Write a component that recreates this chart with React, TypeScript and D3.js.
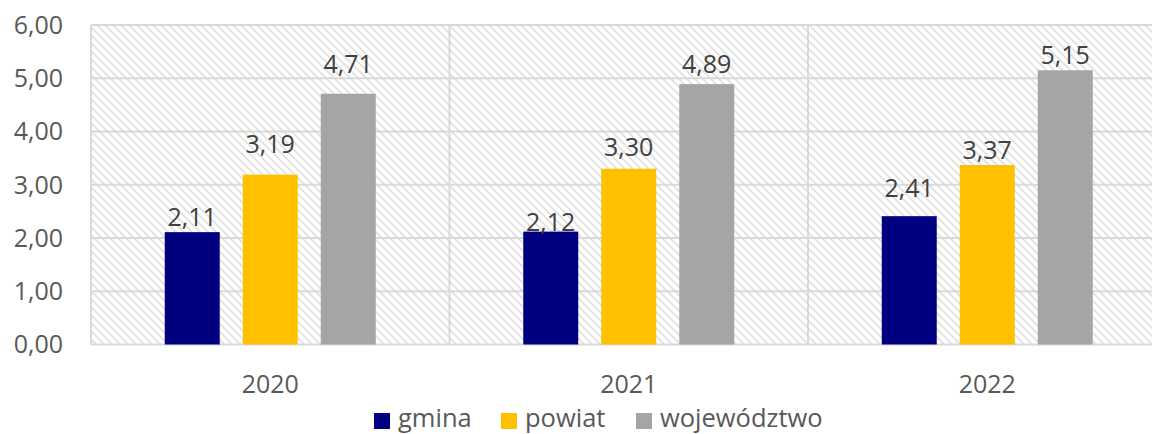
import React, {useEffect, useRef} from 'react';
import * as d3 from 'd3';

const years = ['2020', '2021', '2022'];
const seriesNames = ['gmina', 'powiat', 'województwo'];
const gmina = [2.11, 2.12, 2.41];
const powiat = [3.19, 3.30, 3.37];
const wojewodztwo = [4.71, 4.89, 5.15];
const yTicks = [0, 1, 2, 3, 4, 5, 6];
const colors = ['#000080', '#FFC000', '#A5A5A5'];
// gap between label baseline and bar top, per series / year (px)
const labelGap = [[6, 1, 19], [22, 13, 6], [21, 11, 6]];

const W = 1152;
const H = 434;

export default function App() {
  const ref = useRef<SVGSVGElement>(null);

  useEffect(() => {
    const svg = d3.select(ref.current);
    svg.selectAll('*').remove();
    const values = [gmina, powiat, wojewodztwo];
    const font = '"Open Sans", "Noto Sans", sans-serif';
    const fmt = (v: number) => v.toFixed(2).replace('.', ',');

    // hatch
    const defs = svg.append('defs');
    const pat = defs.append('pattern')
      .attr('id', 'hatch')
      .attr('patternUnits', 'userSpaceOnUse')
      .attr('width', 8)
      .attr('height', 8);
    pat.append('rect').attr('width', 8).attr('height', 8).attr('fill', '#fff');
    pat.append('path')
      .attr('d', 'M-2,-2 L10,10 M-2,6 L2,10 M6,-2 L10,2')
      .attr('stroke', '#e0e0e0')
      .attr('stroke-width', 1.6);

    const left = 91;
    const right = 91 + 3 * 358.5;
    const y = d3.scaleLinear().domain([0, 6]).range([344.5, 25]);
    const x = d3.scaleBand().domain(years).range([left, right]).paddingInner(0).paddingOuter(0);
    const xs = d3.scaleBand().domain(seriesNames).range([0, x.bandwidth()])
      .paddingInner(0.295).paddingOuter(0.9455);

    svg.append('rect')
      .attr('x', left).attr('y', y(6))
      .attr('width', right - left).attr('height', y(0) - y(6))
      .attr('fill', 'url(#hatch)');

    // horizontal grid
    svg.append('g').selectAll('line').data(yTicks).enter().append('line')
      .attr('x1', left).attr('x2', right)
      .attr('y1', d => y(d)).attr('y2', d => y(d))
      .attr('stroke', '#d9d9d9').attr('stroke-width', 2);

    // vertical grid at category borders
    const borders = years.map(c => x(c) as number).concat([right]);
    svg.append('g').selectAll('line').data(borders).enter().append('line')
      .attr('x1', d => d).attr('x2', d => d)
      .attr('y1', y(6)).attr('y2', y(0))
      .attr('stroke', '#d9d9d9').attr('stroke-width', 2);

    // y labels
    svg.append('g').selectAll('text').data(yTicks).enter().append('text')
      .attr('x', 63).attr('y', d => y(d))
      .attr('dy', '0.35em')
      .attr('text-anchor', 'end')
      .attr('font-family', font).attr('font-size', 25)
      .attr('fill', '#595959')
      .text(d => fmt(d));

    // x labels
    svg.append('g').selectAll('text').data(years).enter().append('text')
      .attr('x', d => (x(d) as number) + x.bandwidth() / 2)
      .attr('y', 393)
      .attr('text-anchor', 'middle')
      .attr('font-family', font).attr('font-size', 25)
      .attr('fill', '#595959')
      .text(d => d);

    // bars
    seriesNames.forEach((s, si) => {
      const g = svg.append('g');
      g.selectAll('rect').data(values[si]).enter().append('rect')
        .attr('x', (d, i) => (x(years[i]) as number) + (xs(s) as number))
        .attr('y', d => y(d))
        .attr('width', xs.bandwidth())
        .attr('height', d => y(0) - y(d))
        .attr('fill', colors[si]);
      g.selectAll('text').data(values[si]).enter().append('text')
        .attr('x', (d, i) => (x(years[i]) as number) + (xs(s) as number) + xs.bandwidth() / 2)
        .attr('y', (d, i) => y(d) - labelGap[si][i])
        .attr('text-anchor', 'middle')
        .attr('font-family', font).attr('font-size', 25)
        .attr('fill', '#404040')
        .text(d => fmt(d));
    });

    // legend
    const legX = [374, 501, 636];
    const leg = svg.append('g');
    seriesNames.forEach((s, i) => {
      leg.append('rect')
        .attr('x', legX[i]).attr('y', 413)
        .attr('width', 16).attr('height', 16)
        .attr('fill', colors[i]);
      leg.append('text')
        .attr('x', legX[i] + 24).attr('y', 427)
        .attr('font-family', font).attr('font-size', 25.5)
        .attr('fill', '#595959')
        .text(s);
    });
  }, []);

  return (
    <svg ref={ref} width={W} height={H}
      style={{position: 'absolute', left: 0, top: 0, background: '#fff'}} />
  );
}
